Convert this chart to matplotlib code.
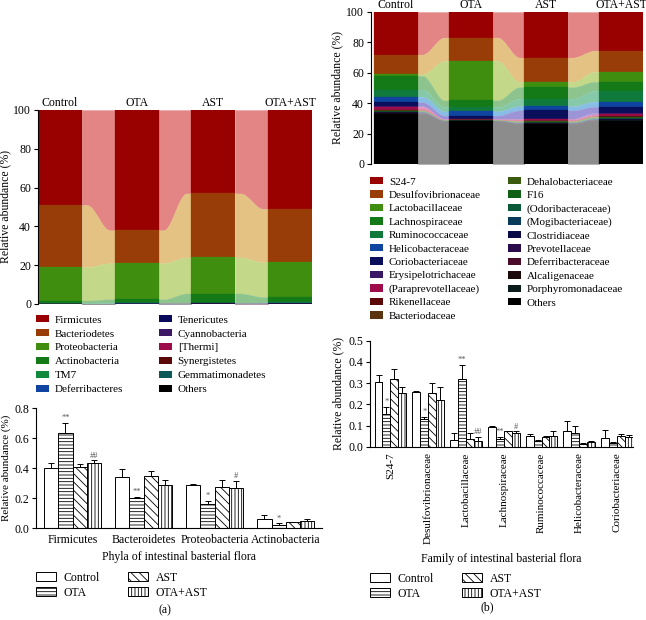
import numpy as np
import matplotlib
matplotlib.use('Agg')
import matplotlib.pyplot as plt
from matplotlib.patches import Patch

plt.rcParams['font.family'] = 'serif'
plt.rcParams['font.serif'] = ['Liberation Serif', 'DejaVu Serif']
plt.rcParams['font.size'] = 8
plt.rcParams['hatch.linewidth'] = 0.6

W, H = 646, 620

groups = ['Control', 'OTA', 'AST', 'OTA+AST']

# ---- phylum composition (%) ----
phyla = ['Firmicutes', 'Bacteriodetes', 'Proteobacteria', 'Actinobacteria', 'TM7',
         'Deferribacteres', 'Tenericutes', 'Cyannobacteria', '[Thermi]', 'Synergistetes',
         'Gemmatimonadetes', 'Others']
phyla_control = [49.0, 32.0, 17.2, 1.5, 0.05, 0.1, 0.05, 0.02, 0.02, 0.02, 0.02, 0.02]
phyla_ota = [62.0, 17.0, 18.6, 2.0, 0.1, 0.2, 0.05, 0.01, 0.01, 0.01, 0.01, 0.01]
phyla_ast = [43.0, 33.0, 18.6, 5.0, 0.1, 0.05, 0.2, 0.02, 0.01, 0.01, 0.01, 0.01]
phyla_ota_ast = [51.0, 27.5, 17.9, 2.8, 0.1, 0.05, 0.5, 0.1, 0.02, 0.01, 0.01, 0.01]

# ---- family composition (%) ----
families = ['S24-7', 'Desulfovibrionaceae', 'Lactobacillaceae', 'Lachnospiraceae',
            'Ruminococcaceae', 'Helicobacteraceae', 'Coriobacteriaceae', 'Erysipelotrichaceae',
            '(Paraprevotellaceae)', 'Rikenellaceae', 'Bacteriodaceae', 'Dehalobacteriaceae',
            'F16', '(Odoribacteraceae)', '(Mogibacteriaceae)', 'Clostridiaceae',
            'Prevotellaceae', 'Deferribacteraceae', 'Alcaligenaceae', 'Porphyromonadaceae',
            'Others']
fam_control = [28.0, 13.0, 1.0, 9.0, 4.8, 3.6, 2.6, 0.4, 1.8, 0.5, 0.3, 0.3, 0.3, 0.2,
               0.2, 0.3, 0.2, 0.2, 0.1, 0.1, 33.1]
fam_ota = [16.8, 15.4, 26.0, 4.4, 2.8, 2.8, 2.2, 0.2, 0.3, 0.2, 0.1, 0.1, 0.1, 0.1,
           0.1, 0.1, 0.1, 0.1, 0.05, 0.05, 28.0]
fam_ast = [30.0, 16.0, 3.5, 7.5, 5.0, 2.8, 5.5, 0.3, 0.8, 0.4, 0.2, 0.3, 0.4, 0.2,
           0.2, 0.2, 0.1, 0.1, 0.1, 0.1, 26.3]
fam_ota_ast = [25.5, 13.8, 6.6, 5.9, 7.2, 3.4, 3.8, 1.2, 0.8, 0.6, 0.3, 0.4, 0.5, 0.3,
               0.2, 0.3, 0.2, 0.2, 0.1, 0.1, 28.6]

# ---- bar chart (a): phyla ----
phyla_bar = ['Firmicutes', 'Bacteroidetes', 'Proteobacteria', 'Actinobacteria']
a_mean = {'Control': [0.40, 0.34, 0.29, 0.062],
          'OTA': [0.637, 0.20, 0.162, 0.022],
          'AST': [0.41, 0.347, 0.273, 0.04],
          'OTA+AST': [0.433, 0.287, 0.269, 0.049]}
a_err = {'Control': [0.035, 0.053, 0.005, 0.025],
         'OTA': [0.067, 0.01, 0.02, 0.011],
         'AST': [0.02, 0.033, 0.047, 0.004],
         'OTA+AST': [0.02, 0.033, 0.048, 0.011]}
a_sig = {'OTA': ['**', '**', '*', '*'], 'OTA+AST': ['##', '', '#', '']}

# ---- bar chart (b): families ----
fam_bar = ['S24-7', 'Desulfovibrionaceae', 'Lactobacillaceae', 'Lachnospiraceae',
           'Ruminococcaceae', 'Helicobacteraceae', 'Coriobacteriaceae']
b_mean = {'Control': [0.307, 0.258, 0.032, 0.092, 0.052, 0.072, 0.043],
          'OTA': [0.153, 0.132, 0.318, 0.036, 0.028, 0.063, 0.019],
          'AST': [0.318, 0.252, 0.035, 0.072, 0.047, 0.013, 0.05],
          'OTA+AST': [0.255, 0.222, 0.027, 0.063, 0.052, 0.021, 0.044]}
b_err = {'Control': [0.031, 0.003, 0.031, 0.007, 0.007, 0.048, 0.036],
         'OTA': [0.036, 0.009, 0.067, 0.011, 0.005, 0.033, 0.003],
         'AST': [0.047, 0.047, 0.028, 0.003, 0.004, 0.003, 0.01],
         'OTA+AST': [0.025, 0.058, 0.02, 0.01, 0.02, 0.006, 0.012]}
b_sig = {'OTA': ['*', '*', '**', '**', '', '', ''],
         'OTA+AST': ['', '', '##', '#', '', '', '']}

phyla_dark = ['#990000', '#993D08', '#3F8E10', '#137A17', '#0F8A3C', '#0F45A0',
              '#0A0A5C', '#3A1866', '#9E0C4C', '#5C0808', '#0A5858', '#000000']
phyla_light = ['#E38585', '#E4C284', '#C4D889', '#8DC48D', '#86C9A8', '#88BDE6',
               '#9C94D6', '#B49AD8', '#E890B8', '#C88888', '#88B8B8', '#8C8C8C']
fam_dark = ['#990000', '#993D08', '#3F8E10', '#137A17', '#0F7A3C', '#0F45A0', '#0A0F5C',
            '#3A1866', '#9E0C4C', '#5C0808', '#5A3510', '#3A5A10', '#0F5F14', '#0A5A3A',
            '#0A3A5A', '#0A0A48', '#2A0A48', '#4A0A2A', '#1C0A0A', '#0A1C1C', '#000000']
fam_light = ['#E38585', '#E4C284', '#C4D889', '#8DC48D', '#86C9A8', '#88BDE6', '#9C94D6',
             '#B49AD8', '#E890B8', '#C88888', '#C8A888', '#A8C088', '#88B888', '#88B8A8',
             '#88A8C0', '#8888B8', '#A088B8', '#B888A0', '#989090', '#889898', '#8C8C8C']

bar_styles = {'Control': '', 'OTA': '-----', 'AST': '\\\\\\\\', 'OTA+AST': '|||||'}


def rect(x0, y0, x1, y1):
    return [x0 / W, 1 - y1 / H, (x1 - x0) / W, (y1 - y0) / H]


def smooth(t):
    s = np.clip((t - 0.15) / 0.7, 0, 1)
    return s * s * (3 - 2 * s)


def draw_stack(ax, cols, dark, light, w):
    vals = np.array(cols, dtype=float)
    vals = vals / vals.sum(axis=1, keepdims=True) * 100
    tops = np.cumsum(vals[:, ::-1], axis=1)[:, ::-1]
    bots = tops - vals
    n = vals.shape[1]
    for i in range(len(cols) - 1):
        xs = np.linspace(i + w / 2, i + 1 - w / 2, 80)
        s = smooth((xs - xs[0]) / (xs[-1] - xs[0]))
        for k in range(n):
            t = tops[i, k] + (tops[i + 1, k] - tops[i, k]) * s
            b = bots[i, k] + (bots[i + 1, k] - bots[i, k]) * s
            ax.fill_between(xs, b, t, color=light[k], lw=0.2)
    for k in range(n):
        ax.bar(range(len(cols)), vals[:, k], bottom=bots[:, k], width=w,
               color=dark[k], lw=0.2, edgecolor=dark[k])
    for i, g in enumerate(groups):
        ax.annotate(g, (i, 100), xytext=(0, 3), textcoords='offset points',
                    ha='center', va='baseline', fontsize=8.5)
    ax.set_ylim(0, 100)
    ax.set_yticks([0, 20, 40, 60, 80, 100])
    ax.set_xticks([])
    for sp in ['top', 'right', 'bottom']:
        ax.spines[sp].set_visible(False)
    ax.spines['left'].set_linewidth(0.8)
    ax.tick_params(axis='y', direction='out', length=3, width=0.8, labelsize=8.5, pad=2)
    ax.set_ylabel('Relative abundance (%)', fontsize=8.5)


def draw_bars(ax, cats, mean, err, sig, w, rot):
    x = np.arange(len(cats))
    for j, g in enumerate(groups):
        xj = x + (j - 1.5) * w
        ax.bar(xj, mean[g], width=w, color='white', edgecolor='black', lw=0.7,
               hatch=bar_styles[g])
        ax.errorbar(xj, mean[g], yerr=[np.zeros(len(cats)), err[g]], fmt='none',
                    ecolor='black', elinewidth=0.7, capsize=2.2, capthick=0.7)
        if g in sig:
            for xi, m, e, s in zip(xj, mean[g], err[g], sig[g]):
                if s:
                    ax.annotate(s, (xi, m + e), xytext=(0, 0.5), textcoords='offset points',
                                ha='center', va='bottom', fontsize=6, color='#555555')
    ax.set_xticks(x)
    if rot:
        ax.set_xticklabels(cats, rotation=90, fontsize=8)
    else:
        ax.set_xticklabels(cats, fontsize=8.5)
    ax.tick_params(axis='x', length=0, pad=4)
    ax.tick_params(axis='y', direction='out', length=3, width=0.8, labelsize=8.5, pad=2)
    for sp in ['top', 'right']:
        ax.spines[sp].set_visible(False)
    ax.set_ylabel('Relative abundance (%)', fontsize=8.5)


fig = plt.figure(figsize=(W / 100, H / 100), dpi=100)

# (a) top stacked chart
ax1 = fig.add_axes(rect(38, 110, 312, 304))
draw_stack(ax1, [phyla_control, phyla_ota, phyla_ast, phyla_ota_ast],
           phyla_dark, phyla_light, 0.571)
ax1.set_xlim(-0.286, 3.286)
ax1.yaxis.set_label_coords((11 - 38) / 274, 0.5)
h1 = [Patch(facecolor=c, edgecolor='none') for c in phyla_dark]
fig.legend(h1, phyla, ncol=2, loc='upper left', bbox_to_anchor=(36 / W, 1 - 315 / H),
           frameon=False, fontsize=8, borderpad=0, borderaxespad=0, handlelength=1.2,
           handleheight=0.65, handletextpad=0.5, labelspacing=0.39, columnspacing=3.2)

# (b) top stacked chart
ax2 = fig.add_axes(rect(371, 12, 643, 164))
draw_stack(ax2, [fam_control, fam_ota, fam_ast, fam_ota_ast],
           fam_dark, fam_light, 0.579)
ax2.set_xlim(-0.33, 3.29)
ax2.yaxis.set_label_coords((343 - 371) / 272, 0.5)
h2 = [Patch(facecolor=c, edgecolor='none') for c in fam_dark]
fig.legend(h2, families, ncol=2, loc='upper left', bbox_to_anchor=(370 / W, 1 - 177 / H),
           frameon=False, fontsize=8, borderpad=0, borderaxespad=0, handlelength=1.2,
           handleheight=0.65, handletextpad=0.5, labelspacing=0.34, columnspacing=2.4)

# (a) bar chart
ax3 = fig.add_axes(rect(36, 408.3, 322, 528.3))
draw_bars(ax3, phyla_bar, a_mean, a_err, a_sig, 0.2, False)
ax3.set_xlim(-0.515, 3.51)
ax3.set_ylim(0, 0.8)
ax3.set_yticks([0, 0.2, 0.4, 0.6, 0.8])
ax3.set_yticklabels(['0.0', '0.2', '0.4', '0.6', '0.8'])
ax3.set_ylabel('Relative abundance (%)', fontsize=8)
ax3.yaxis.set_label_coords((11 - 36) / 286, 0.5)
ax3.set_xlabel('Phyla of intestinal basterial flora', fontsize=8.5, labelpad=4)

# (b) bar chart
ax4 = fig.add_axes(rect(370, 340.7, 633, 446.7))
draw_bars(ax4, fam_bar, b_mean, b_err, b_sig, 0.21, True)
ax4.set_xlim(-0.54, 6.42)
ax4.set_ylim(0, 0.5)
ax4.set_yticks([0, 0.1, 0.2, 0.3, 0.4, 0.5])
ax4.set_yticklabels(['0.0', '0.1', '0.2', '0.3', '0.4', '0.5'])
ax4.yaxis.set_label_coords((344 - 370) / 263, 0.5)
ax4.set_xlabel('Family of intestinal basterial flora', fontsize=8.5, labelpad=6)

hb = [Patch(facecolor='white', edgecolor='black', lw=0.7, hatch=bar_styles[g]) for g in groups]
for x0, y0 in [(36, 572), (370, 573)]:
    fig.legend(hb, groups, ncol=2, loc='upper left', bbox_to_anchor=(x0 / W, 1 - y0 / H),
               frameon=False, fontsize=8.5, borderpad=0, borderaxespad=0,
               handlelength=1.7, handleheight=0.8, handletextpad=0.6, labelspacing=0.25,
               columnspacing=2.45)

fig.text(165 / W, 1 - 610 / H, '(a)', ha='center', va='center', fontsize=8.5)
fig.text(487 / W, 1 - 607 / H, '(b)', ha='center', va='center', fontsize=8.5)

fig.savefig('out.png', dpi=100)
